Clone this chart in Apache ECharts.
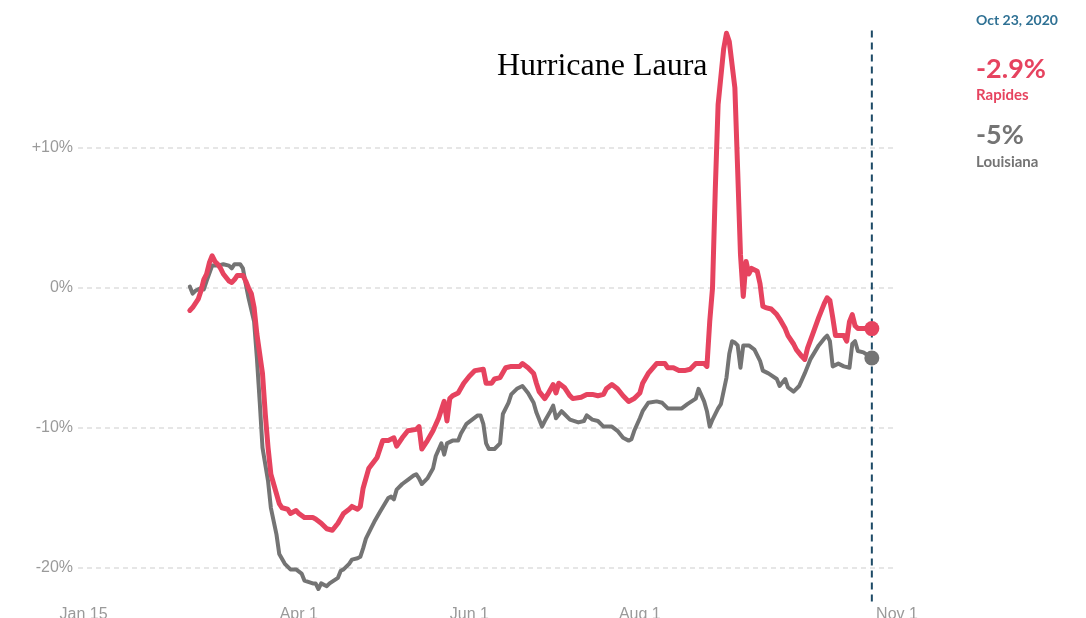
<!DOCTYPE html>
<html>
<head>
<meta charset="utf-8">
<script src="https://cdn.jsdelivr.net/npm/echarts@6/dist/echarts.min.js"></script>
<style>
  html, body { margin: 0; padding: 0; background: #ffffff; }
  #chart { width: 1086px; height: 618px; }
</style>
</head>
<body>
<div id="chart"></div>
<script>
// x positions are day-of-year in 2020 (Jan 1 = 1)
const tickDays = [15, 92, 153, 214, 306];
const tickLabels = ['Jan 15', 'Apr 1', 'Jun 1', 'Aug 1', 'Nov 1'];
const markerDay = 297;
const markerLabel = 'Oct 23, 2020';
const annotationText = 'Hurricane Laura';

// [day, % change]
const rapides = [
  [53,-1.6],[54,-1.4],[56,-0.8],[57,-0.2],[58,0.6],[59,1.0],[60,1.8],[61,2.3],[62,1.9],[63,1.7],
  [64,1.4],[65,1.0],[67,0.5],[68,0.4],[69,0.6],[70,0.9],[72,0.9],[73,0.5],[74,0.0],[75,-0.4],
  [76,-1.4],[77,-3.3],[79,-6.1],[80,-9.0],[81,-11.4],[82,-13.3],[84,-14.7],[85,-15.4],[86,-15.7],[88,-15.8],
  [89,-16.1],[91,-15.9],[92,-16.1],[94,-16.4],[97,-16.4],[98,-16.5],[100,-16.8],[101,-17.0],[102,-17.2],[104,-17.3],
  [106,-16.8],[108,-16.1],[110,-15.8],[111,-15.6],[113,-15.8],[114,-15.6],[115,-14.3],[117,-12.9],[120,-12.1],[122,-10.9],
  [124,-10.9],[126,-10.7],[127,-11.3],[129,-10.7],[131,-10.2],[134,-10.1],[135,-9.9],[136,-11.5],[138,-10.9],[140,-10.2],
  [142,-9.3],[144,-8.1],[145,-9.5],[146,-7.9],[147,-7.7],[149,-7.5],[151,-6.8],[153,-6.3],[155,-5.9],[158,-5.8],
  [159,-6.8],[161,-6.8],[162,-6.5],[164,-6.4],[166,-5.7],[168,-5.6],[171,-5.6],[172,-5.4],[174,-5.7],[176,-6.1],
  [177,-6.8],[178,-7.4],[180,-7.9],[181,-7.6],[183,-6.9],[184,-7.5],[185,-6.8],[187,-7.1],[189,-7.7],[190,-7.9],
  [193,-7.8],[195,-7.6],[197,-7.6],[199,-7.7],[201,-7.6],[202,-7.2],[204,-6.9],[206,-7.2],[208,-7.7],[210,-8.1],
  [212,-7.9],[214,-7.5],[215,-6.8],[217,-6.1],[220,-5.4],[223,-5.4],[224,-5.7],[226,-5.7],[228,-5.9],[230,-5.9],
  [232,-5.8],[234,-5.4],[237,-5.4],[238,-5.6],[239,-2.4],[240,0.0],[241,7.1],[242,13.1],[244,17.1],[245,18.2],
  [246,17.6],[248,14.3],[249,8.4],[250,2.4],[251,-0.6],[252,1.9],[253,1.0],[254,1.4],[256,1.2],[257,0.3],
  [258,-1.3],[259,-1.4],[261,-1.5],[263,-1.9],[264,-2.2],[266,-2.9],[267,-3.4],[269,-4.0],[270,-4.4],[272,-4.9],
  [273,-5.1],[274,-4.3],[276,-3.2],[278,-2.1],[280,-1.1],[281,-0.7],[282,-0.9],[283,-2.1],[284,-3.4],[285,-3.4],
  [287,-3.4],[288,-3.8],[289,-2.4],[290,-1.9],[291,-2.7],[292,-2.9],[294,-2.9],[297,-2.9]
];

const louisiana = [
  [53,0.1],[54,-0.4],[55,-0.2],[57,0.0],[58,-0.1],[59,0.5],[61,1.6],[63,1.6],[65,1.7],[67,1.6],
  [68,1.4],[69,1.7],[71,1.7],[72,1.4],[73,0.3],[74,-0.7],[76,-2.4],[77,-5.0],[78,-8.1],[79,-11.4],
  [81,-13.8],[82,-15.7],[84,-17.6],[85,-19.0],[87,-19.7],[89,-20.1],[91,-20.1],[93,-20.4],[94,-20.9],[97,-21.1],
  [98,-21.1],[99,-21.5],[100,-21.1],[102,-21.3],[103,-21.1],[106,-20.7],[107,-20.2],[108,-20.1],[110,-19.7],[111,-19.4],
  [113,-19.3],[114,-19.2],[115,-18.6],[116,-17.9],[118,-17.1],[119,-16.7],[121,-16.0],[124,-15.0],[125,-14.9],[126,-15.1],
  [127,-14.4],[129,-14.0],[131,-13.7],[133,-13.4],[134,-13.3],[135,-13.6],[136,-14.0],[138,-13.6],[140,-12.9],[141,-12.0],
  [143,-11.1],[144,-11.9],[145,-11.1],[147,-10.9],[149,-10.9],[150,-10.4],[152,-9.7],[154,-9.4],[156,-9.1],[157,-9.1],
  [158,-9.7],[159,-11.1],[160,-11.5],[162,-11.5],[164,-11.1],[165,-9.0],[167,-8.2],[168,-7.6],[170,-7.2],[172,-7.0],
  [174,-7.5],[176,-8.2],[177,-8.9],[179,-9.9],[180,-9.5],[182,-8.8],[183,-8.4],[184,-9.3],[186,-8.8],[187,-9.0],
  [189,-9.4],[192,-9.6],[194,-9.5],[195,-9.1],[197,-9.4],[199,-9.5],[201,-9.9],[202,-9.9],[204,-9.9],[206,-10.2],
  [208,-10.7],[210,-10.9],[211,-10.8],[212,-10.2],[214,-9.3],[215,-8.8],[217,-8.2],[220,-8.1],[222,-8.2],[224,-8.6],
  [227,-8.6],[229,-8.6],[231,-8.3],[234,-7.9],[235,-7.2],[237,-8.1],[238,-8.8],[239,-9.9],[240,-9.4],[242,-8.6],
  [243,-8.3],[245,-6.4],[246,-4.7],[247,-3.8],[248,-3.9],[249,-4.1],[250,-5.7],[251,-4.1],[253,-4.1],[255,-4.4],
  [257,-5.2],[258,-5.9],[260,-6.1],[263,-6.5],[264,-7.0],[266,-6.5],[267,-7.1],[269,-7.4],[271,-7.0],[273,-6.1],
  [275,-5.1],[278,-4.1],[280,-3.6],[281,-3.4],[282,-3.8],[283,-5.6],[285,-5.4],[287,-5.6],[289,-5.7],[290,-4.0],
  [291,-3.8],[292,-4.5],[294,-4.6],[297,-5.0]
];

// extent of the vertical "latest date" rule, in % units
const markerRange = [18.4, -22.6];

const RED = '#e6435f';
const GREY = '#747474';
const NAVY = '#1d4a66';
const rLast = rapides[rapides.length - 1];
const lLast = louisiana[louisiana.length - 1];

const chart = echarts.init(document.getElementById('chart'), null, { renderer: 'canvas' });

chart.setOption({
  animation: false,
  backgroundColor: '#ffffff',
  grid: { left: 78, right: 189, top: 8, bottom: 50, containLabel: false, outerBoundsMode: 'none' },
  xAxis: {
    type: 'value',
    min: 13,
    max: 306,
    axisLine: { show: false },
    axisTick: { show: false },
    splitLine: { show: false },
    axisLabel: {
      customValues: tickDays,
      margin: 39,
      color: '#9a9a9a',
      fontSize: 16,
      fontFamily: 'Liberation Sans, Arial, sans-serif',
      formatter: function (v) {
        const i = tickDays.indexOf(v);
        return i >= 0 ? tickLabels[i] : '';
      }
    }
  },
  yAxis: {
    type: 'value',
    min: -20,
    max: 20,
    interval: 10,
    axisLine: { show: false },
    axisTick: { show: false },
    axisLabel: {
      showMaxLabel: false,
      margin: 5,
      color: '#9a9a9a',
      fontSize: 16,
      fontFamily: 'Liberation Sans, Arial, sans-serif',
      formatter: function (v) { return (v > 0 ? '+' : '') + v + '%'; }
    },
    splitLine: {
      show: true,
      showMaxLine: false,
      lineStyle: { color: '#dedede', width: 1.5, type: [5, 4] }
    }
  },
  series: [
    {
      name: 'Louisiana',
      type: 'line',
      data: louisiana,
      clip: false,
      showSymbol: false,
      symbol: 'none',
      silent: true,
      z: 2,
      lineStyle: { color: GREY, width: 4, cap: 'round', join: 'round' }
    },
    {
      name: 'Rapides',
      type: 'line',
      data: rapides,
      clip: false,
      showSymbol: false,
      symbol: 'none',
      silent: true,
      z: 3,
      lineStyle: { color: RED, width: 5, cap: 'round', join: 'round' }
    },
    {
      name: 'latest',
      type: 'scatter',
      clip: false,
      silent: true,
      z: 4,
      symbolSize: 15,
      itemStyle: { opacity: 1 },
      data: [
        { value: lLast, itemStyle: { color: GREY, opacity: 1 } },
        { value: rLast, itemStyle: { color: RED, opacity: 1 } }
      ]
    }
  ]
});

const pTop = chart.convertToPixel({ gridIndex: 0 }, [markerDay, markerRange[0]]);
const pBot = chart.convertToPixel({ gridIndex: 0 }, [markerDay, markerRange[1]]);

chart.setOption({
  graphic: [
    {
      type: 'line', silent: true, z: 1,
      shape: { x1: pTop[0], y1: pTop[1], x2: pBot[0], y2: pBot[1] },
      style: { stroke: NAVY, lineWidth: 2, lineDash: [7, 5] }
    },
    {
      type: 'text', left: 497, top: 51, silent: true,
      style: { text: annotationText, font: '32px "Liberation Serif", "Times New Roman", serif', fill: '#000000' }
    },
    {
      type: 'text', left: 976, top: 13, silent: true,
      style: { text: markerLabel, font: 'bold 14px Lato, sans-serif', fill: '#2f7194' }
    },
    {
      type: 'text', left: 976, top: 56, silent: true,
      style: { text: rLast[1] + '%', font: 'bold 27px Lato, sans-serif', fill: RED }
    },
    {
      type: 'text', left: 976, top: 88, silent: true,
      style: { text: 'Rapides', font: 'bold 15px Lato, sans-serif', fill: RED }
    },
    {
      type: 'text', left: 976, top: 122, silent: true,
      style: { text: lLast[1] + '%', font: 'bold 27px Lato, sans-serif', fill: GREY }
    },
    {
      type: 'text', left: 976, top: 155, silent: true,
      style: { text: 'Louisiana', font: 'bold 15px Lato, sans-serif', fill: GREY }
    }
  ]
});
</script>
</body>
</html>
